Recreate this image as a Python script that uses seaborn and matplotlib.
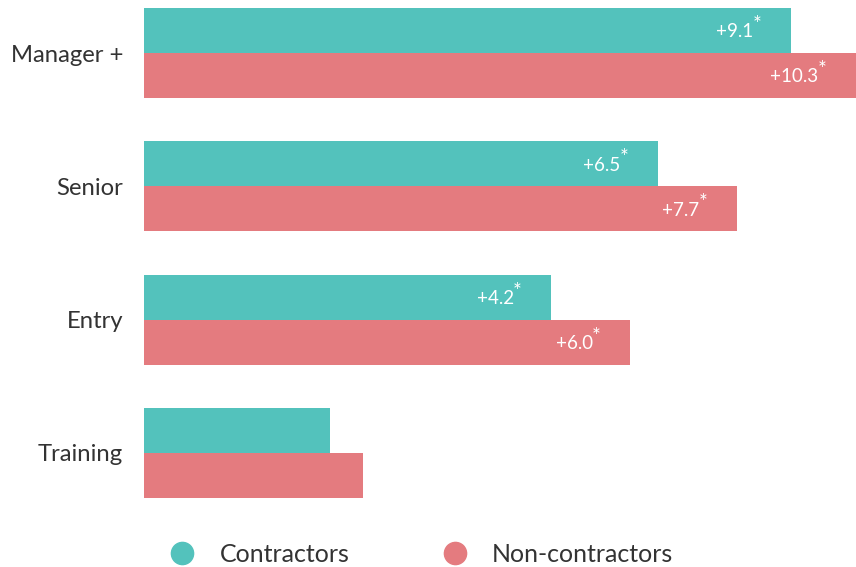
import pandas as pd
import numpy as np
import matplotlib
matplotlib.use('Agg')
import matplotlib.pyplot as plt
from matplotlib.lines import Line2D
import seaborn as sns

# data (bar length as share of the longest bar)
levels = ['Manager +', 'Senior', 'Entry', 'Training']
groups = ['Contractors', 'Non-contractors']
contractors = [90.9, 72.2, 57.2, 26.1]
non_contractors = [100.0, 83.3, 68.3, 30.8]
contractor_labels = ['+9.1', '+6.5', '+4.2', '']
non_contractor_labels = ['+10.3', '+7.7', '+6.0', '']

teal = '#53c2bc'
red = '#e47b7f'
txt = '#333333'

df = pd.DataFrame({
    'level': levels * 2,
    'group': [groups[0]] * 4 + [groups[1]] * 4,
    'value': contractors + non_contractors,
})

sns.set_style('white')
plt.rcParams['font.family'] = ['Lato', 'DejaVu Sans']

fig = plt.figure(figsize=(8.56, 5.67), dpi=100)
ax = fig.add_axes([144 / 856, 57 / 567, 712 / 856, 510 / 567])

sns.barplot(data=df, y='level', x='value', hue='group', order=levels,
            hue_order=groups, palette=[teal, red], width=0.675,
            saturation=1, dodge=True, ax=ax, legend=False, linewidth=0)

ax.set_xlim(0, 100)
ax.set_ylim(3 + 57 / 133.33, -53 / 133.33)
ax.set_xlabel('')
ax.set_ylabel('')
ax.set_xticks([])
ax.tick_params(axis='y', length=0, pad=15, labelsize=17.2, labelcolor=txt)
sns.despine(ax=ax, left=True, bottom=True)

# value labels inside the bar ends
for cont, labels in zip(ax.containers, [contractor_labels, non_contractor_labels]):
    for bar, lab in zip(cont, labels):
        if not lab:
            continue
        x_end = bar.get_x() + bar.get_width()
        yc = bar.get_y() + bar.get_height() / 2
        ax.annotate(lab, (x_end, yc), xytext=(-27, -1), textcoords='offset points',
                    ha='right', va='center', color='white', fontsize=13.5)
        ax.annotate('*', (x_end, yc), xytext=(-27.5, 4), textcoords='offset points',
                    ha='left', va='center', color='white', fontsize=15)

handles = [Line2D([], [], marker='o', linestyle='', markersize=16,
                  markerfacecolor=c, markeredgecolor=c) for c in [teal, red]]
fig.legend(handles, groups, loc='center left', bbox_to_anchor=(171 / 856, 13 / 567),
           ncol=2, frameon=False, fontsize=18, labelcolor=txt, handlelength=0.9,
           handletextpad=1.05, columnspacing=3.75, borderpad=0, borderaxespad=0)

fig.savefig('out.png', dpi=100)
